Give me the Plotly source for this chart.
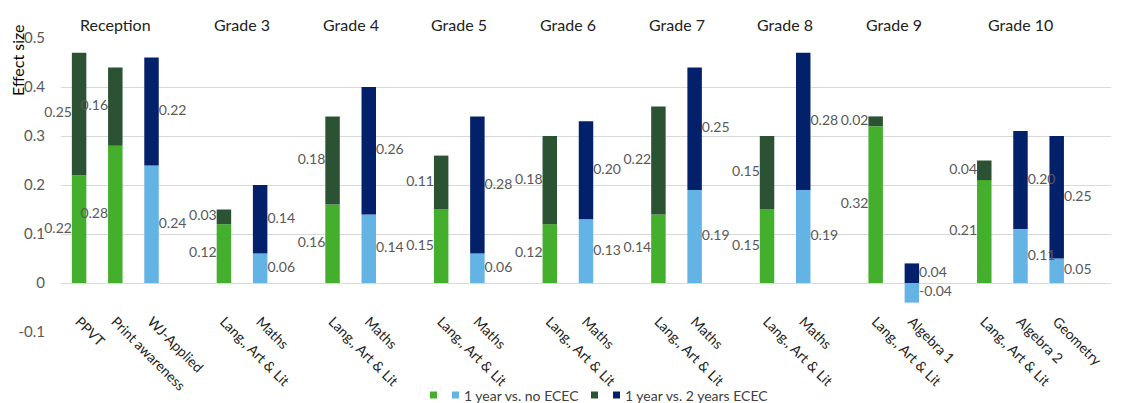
import plotly.graph_objects as go

# Grade groups and the outcome measures assessed in each
groups = ["Reception", "Grade 3", "Grade 4", "Grade 5", "Grade 6",
          "Grade 7", "Grade 8", "Grade 9", "Grade 10"]
outcomes = [
    ["PPVT", "Print awareness", "WJ-Applied"],
    ["Lang., Art & Lit", "Maths"],
    ["Lang., Art & Lit", "Maths"],
    ["Lang., Art & Lit", "Maths"],
    ["Lang., Art & Lit", "Maths"],
    ["Lang., Art & Lit", "Maths"],
    ["Lang., Art & Lit", "Maths"],
    ["Lang., Art & Lit", "Algebra 1"],
    ["Lang., Art & Lit", "Algebra 2", "Geometry"],
]
# Domain of each outcome: "lit" = language/literacy, "math" = mathematics
domains = [
    ["lit", "lit", "math"],
    ["lit", "math"], ["lit", "math"], ["lit", "math"], ["lit", "math"],
    ["lit", "math"], ["lit", "math"], ["lit", "math"],
    ["lit", "math", "math"],
]
# Effect sizes
vs_no_ecec = [
    [0.22, 0.28, 0.24],
    [0.12, 0.06], [0.16, 0.14], [0.15, 0.06], [0.12, 0.13],
    [0.14, 0.19], [0.15, 0.19], [0.32, -0.04],
    [0.21, 0.11, 0.05],
]
vs_two_years = [
    [0.25, 0.16, 0.22],
    [0.03, 0.14], [0.18, 0.26], [0.11, 0.28], [0.18, 0.20],
    [0.22, 0.25], [0.15, 0.28], [0.02, 0.04],
    [0.04, 0.20, 0.25],
]
y_ticks = [0.5, 0.4, 0.3, 0.2, 0.1, 0, -0.1]
y_tick_text = ["0.5", "0.4", "0.3", "0.2", "0.1", "0", "-0.1"]
legend_labels = ["1 year vs. no ECEC", "1 year vs. 2 years ECEC"]

C_LIT_1 = "#44AF2C"
C_MATH_1 = "#63B3E4"
C_LIT_2 = "#2C5234"
C_MATH_2 = "#03216A"
FONT = "Lato"
LABEL_GREY = "#595959"

# Figure geometry (pixels)
W, H = 1137, 403
ML, MR, MT, MB = 61, 26, 38, 71
PW, PH = W - ML - MR, H - MT - MB


def px_x(px):
    return (px - ML) / PW


def px_y(py):
    return (H - MB - py) / PH


# Lay the outcomes out on a numeric axis, leaving one empty slot between grades
xs, names, doms, v1, v2, group_centres = [], [], [], [], [], []
slot = 0
for g, outs in enumerate(outcomes):
    start = slot
    for k, o in enumerate(outs):
        xs.append(slot)
        names.append(o)
        doms.append(domains[g][k])
        v1.append(vs_no_ecec[g][k])
        v2.append(vs_two_years[g][k])
        slot += 1
    group_centres.append((start + slot - 1) / 2)
    slot += 1
n_slots = slot - 1

BAR_W = 0.4


def pick(vals, dom):
    return [v if d == dom else None for v, d in zip(vals, doms)]


fig = go.Figure()
fig.add_bar(x=xs, y=pick(v1, "lit"), marker_color=C_LIT_1, width=BAR_W)
fig.add_bar(x=xs, y=pick(v1, "math"), marker_color=C_MATH_1, width=BAR_W)
fig.add_bar(x=xs, y=pick(v2, "lit"), marker_color=C_LIT_2, width=BAR_W)
fig.add_bar(x=xs, y=pick(v2, "math"), marker_color=C_MATH_2, width=BAR_W)
fig.update_traces(marker_line_width=0, showlegend=False,
                  selector=dict(type="bar"))

# Value labels at the middle of each segment: literacy on the left, maths on the right
lab_x_l, lab_y_l, lab_t_l = [], [], []
lab_x_r, lab_y_r, lab_t_r = [], [], []
for x, a, b, d in zip(xs, v1, v2, doms):
    mid_a = a / 2
    mid_b = b / 2 if a < 0 else a + b / 2
    if d == "lit":
        lab_x_l += [x - BAR_W / 2, x - BAR_W / 2]
        lab_y_l += [mid_a, mid_b]
        lab_t_l += [f"{a:.2f}", f"{b:.2f}"]
    else:
        lab_x_r += [x + BAR_W / 2, x + BAR_W / 2]
        lab_y_r += [mid_a, mid_b]
        lab_t_r += [f"{a:.2f}", f"{b:.2f}"]

fig.add_scatter(x=lab_x_l, y=lab_y_l, text=lab_t_l, mode="text",
                textposition="middle left", showlegend=False,
                textfont=dict(family=FONT, size=14, color=LABEL_GREY),
                hoverinfo="skip", cliponaxis=False)
fig.add_scatter(x=lab_x_r, y=lab_y_r, text=lab_t_r, mode="text",
                textposition="middle right", showlegend=False,
                textfont=dict(family=FONT, size=14, color=LABEL_GREY),
                hoverinfo="skip", cliponaxis=False)

# Grade headings above the plot
for gname, cx in zip(groups, group_centres):
    fig.add_annotation(x=cx, y=1.0, xref="x", yref="paper", text=gname,
                       showarrow=False, yanchor="bottom", yshift=2,
                       font=dict(family=FONT, size=16, color="#222222"))

# Y-axis title, set near the top of the axis
fig.add_annotation(x=px_x(18), y=px_y(60), xref="paper", yref="paper",
                   text="Effect size", textangle=-90, showarrow=False,
                   xanchor="center", yanchor="middle",
                   font=dict(family=FONT, size=16, color="#000000"))

# Legend: two swatches per entry, then the entry text
legend_rows = [
    ([C_LIT_1, C_MATH_1], [430, 452], 462, legend_labels[0]),
    ([C_LIT_2, C_MATH_2], [591, 613], 623, legend_labels[1]),
]
LEG_Y = 395
for cols, lefts, tx, label in legend_rows:
    for c, lx in zip(cols, lefts):
        fig.add_shape(type="rect", xref="paper", yref="paper",
                      x0=px_x(lx), x1=px_x(lx + 7),
                      y0=px_y(LEG_Y + 3.5), y1=px_y(LEG_Y - 3.5),
                      fillcolor=c, line_width=0)
    fig.add_annotation(x=px_x(tx), y=px_y(LEG_Y), xref="paper", yref="paper",
                       text=label, showarrow=False, xanchor="left",
                       yanchor="middle",
                       font=dict(family=FONT, size=14, color="#404040"))

Y_MIN, Y_MAX = -0.1, 0.5
fig.update_layout(
    width=W, height=H,
    margin=dict(l=ML, r=MR, t=MT, b=MB, autoexpand=False),
    barmode="relative",
    plot_bgcolor="white", paper_bgcolor="white",
    font=dict(family=FONT, size=14, color=LABEL_GREY),
    showlegend=False,
    xaxis=dict(
        range=[-0.5, n_slots + 0.5],
        tickvals=xs, ticktext=names, tickangle=45,
        showgrid=False, zeroline=False, showline=False,
        ticks="outside", ticklen=24, tickcolor="rgba(0,0,0,0)",
        anchor="free", position=(0 - Y_MIN) / (Y_MAX - Y_MIN),
        automargin=False,
        tickfont=dict(family=FONT, size=14, color="#222222"),
    ),
    yaxis=dict(
        range=[Y_MIN, Y_MAX], tickvals=y_ticks, ticktext=y_tick_text,
        showgrid=True, gridcolor="#D9D9D9", gridwidth=1,
        zeroline=False, showline=False, automargin=False,
        ticks="outside", ticklen=12, tickcolor="rgba(0,0,0,0)",
        tickfont=dict(family=FONT, size=15, color=LABEL_GREY),
    ),
)

fig.write_html("out.html")
